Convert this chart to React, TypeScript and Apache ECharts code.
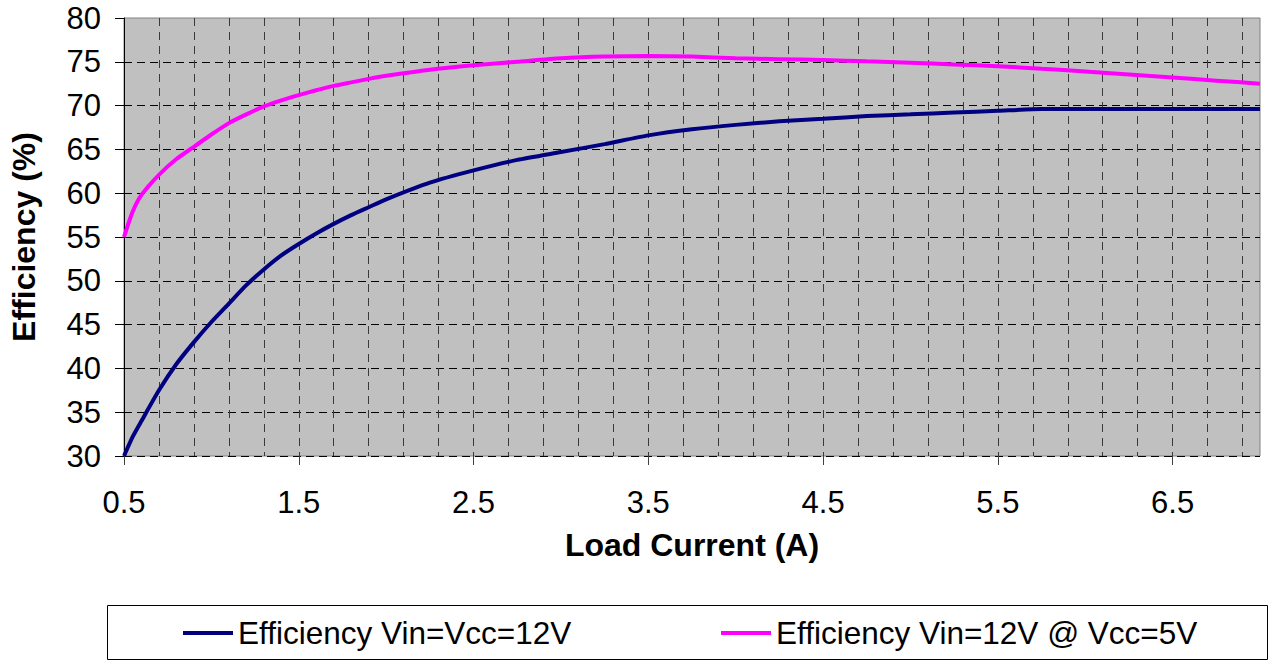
import React, { useEffect, useRef } from "react";
import * as echarts from "echarts";

const loadCurrent = [0.5, 0.55, 0.6, 0.7, 0.8, 0.9, 1.0, 1.1, 1.2, 1.3, 1.4, 1.5, 1.6, 1.7, 1.8, 1.9, 2.0, 2.25, 2.5, 2.75, 3.0, 3.25, 3.5, 3.75, 4.0, 4.25, 4.5, 4.75, 5.0, 5.25, 5.5, 5.75, 6.0, 6.25, 6.5, 6.75, 7.0];
const effVcc12 = [30.0, 32.2, 34.0, 37.5, 40.5, 43.0, 45.3, 47.4, 49.5, 51.3, 52.9, 54.2, 55.4, 56.5, 57.5, 58.4, 59.3, 61.2, 62.6, 63.8, 64.7, 65.6, 66.6, 67.3, 67.8, 68.2, 68.5, 68.8, 69.0, 69.2, 69.4, 69.6, 69.6, 69.6, 69.6, 69.6, 69.6];
const effVcc5 = [55.0, 57.9, 59.8, 62.1, 63.9, 65.3, 66.7, 68.0, 69.0, 69.9, 70.6, 71.2, 71.75, 72.25, 72.65, 73.05, 73.4, 74.1, 74.6, 75.0, 75.4, 75.6, 75.65, 75.6, 75.4, 75.3, 75.2, 75.05, 74.9, 74.7, 74.5, 74.2, 73.9, 73.55, 73.2, 72.85, 72.5];
const xTickLabels = [0.5, 1.5, 2.5, 3.5, 4.5, 5.5, 6.5];
const seriesNames = ["Efficiency Vin=Vcc=12V", "Efficiency Vin=12V @ Vcc=5V"];
const xTitle = "Load Current (A)";
const yTitle = "Efficiency (%)";

const FONT = '"Liberation Sans", Arial, sans-serif';

export default function App() {
  const ref = useRef<HTMLDivElement>(null);
  useEffect(() => {
    if (!ref.current) return;
    const chart = echarts.init(ref.current, null, { renderer: "svg" });
    const d1 = loadCurrent.map((x, i) => [x, effVcc12[i]]);
    const d2 = loadCurrent.map((x, i) => [x, effVcc5[i]]);
    chart.setOption({
      animation: false,
      backgroundColor: "#ffffff",
      textStyle: { fontFamily: FONT },
      grid: {
        left: 124,
        top: 18,
        width: 1136,
        height: 438,
        show: true,
        backgroundColor: "#C0C0C0",
        borderColor: "#808080",
        borderWidth: 1,
      },
      graphic: [
        {
          type: "rect",
          shape: { x: 107.5, y: 605.5, width: 1160, height: 54 },
          style: { fill: "#ffffff", stroke: "#000000", lineWidth: 1 },
          z: 0,
        },
      ],
      legend: [
        {
          data: [seriesNames[0]],
          left: 183,
          top: 617,
          icon: "rect",
          itemWidth: 50,
          itemHeight: 4,
          textStyle: { fontSize: 31.5, color: "#000", fontFamily: FONT },
          padding: 0,
        },
        {
          data: [seriesNames[1]],
          left: 721,
          top: 617,
          icon: "rect",
          itemWidth: 50,
          itemHeight: 4,
          textStyle: { fontSize: 31.5, color: "#000", fontFamily: FONT },
          padding: 0,
        },
      ],
      xAxis: [
        {
          type: "value",
          min: 0.5,
          max: 7,
          interval: 0.2,
          axisLine: { show: false },
          axisTick: { show: false },
          axisLabel: { show: false },
          splitLine: {
            show: true,
            showMinLine: false,
            showMaxLine: false,
            lineStyle: { color: "#3a3a3a", width: 1, type: [8, 6] },
          },
        },
        {
          type: "value",
          min: 0.5,
          max: 7,
          interval: 1,
          position: "bottom",
          name: xTitle,
          nameLocation: "middle",
          nameGap: 73,
          nameTextStyle: { fontSize: 32, fontWeight: "bold", color: "#000", fontFamily: FONT },
          axisLine: { show: false },
          axisTick: { show: true, length: 9, lineStyle: { color: "#404040" }, customValues: xTickLabels },
          axisLabel: {
            show: true,
            customValues: xTickLabels,
            fontSize: 31,
            color: "#000",
            margin: 31,
            fontFamily: FONT,
            formatter: (v: number) => (v >= 6.99 ? "" : v.toFixed(1)),
          },
          splitLine: { show: false },
        },
      ],
      yAxis: {
        type: "value",
        min: 30,
        max: 80,
        interval: 5,
        name: yTitle,
        nameLocation: "middle",
        nameGap: 84,
        nameTextStyle: { fontSize: 32, fontWeight: "bold", color: "#000", fontFamily: FONT },
        axisLine: { show: true, lineStyle: { color: "#000", width: 1 } },
        axisTick: { show: true, length: 9, lineStyle: { color: "#000" } },
        axisLabel: { fontSize: 31, color: "#000", margin: 23, fontFamily: FONT },
        splitLine: {
          show: true,
          showMinLine: true,
          showMaxLine: false,
          lineStyle: { color: "#000", width: 1, type: [8, 5] },
        },
      },
      series: [
        {
          name: seriesNames[0],
          type: "line",
          xAxisIndex: 0,
          data: d1,
          symbol: "none",
          showSymbol: false,
          smooth: 0.2,
          color: "#000080",
          lineStyle: { color: "#000080", width: 4 },
          z: 3,
        },
        {
          name: seriesNames[1],
          type: "line",
          xAxisIndex: 0,
          data: d2,
          symbol: "none",
          showSymbol: false,
          smooth: 0.2,
          color: "#FF00FF",
          lineStyle: { color: "#FF00FF", width: 4 },
          z: 3,
        },
      ],
    });
    return () => chart.dispose();
  }, []);
  return (
    <div
      ref={ref}
      style={{ position: "fixed", left: 0, top: 0, width: 1270, height: 662 }}
    />
  );
}
